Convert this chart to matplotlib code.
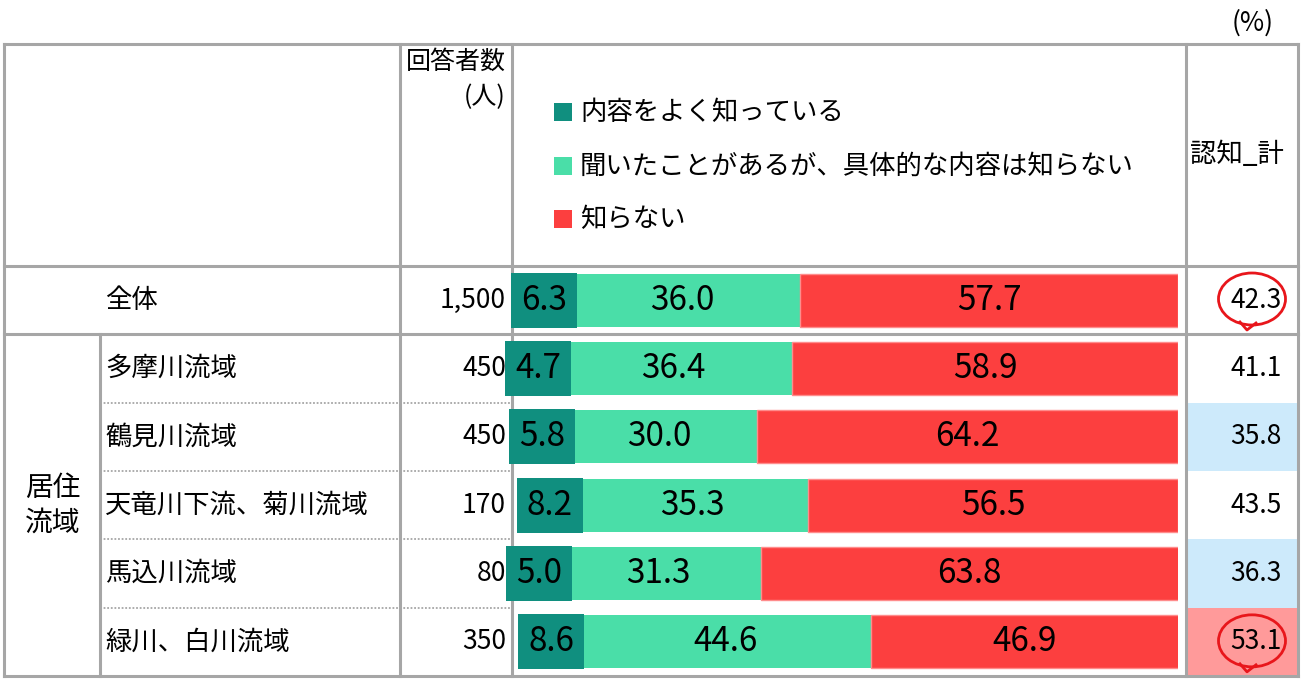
import matplotlib

matplotlib.use("Agg")
import matplotlib.pyplot as plt
from matplotlib.patches import Ellipse, Rectangle
import numpy as np

plt.rcParams["font.family"] = ["Noto Sans CJK JP", "DejaVu Sans"]

# data
categories = ["全体", "多摩川流域", "鶴見川流域", "天竜川下流、菊川流域", "馬込川流域", "緑川、白川流域"]
counts = ["1,500", "450", "450", "170", "80", "350"]
know_well = [6.3, 4.7, 5.8, 8.2, 5.0, 8.6]
heard_only = [36.0, 36.4, 30.0, 35.3, 31.3, 44.6]
not_known = [57.7, 58.9, 64.2, 56.5, 63.8, 46.9]
aware_total = [42.3, 41.1, 35.8, 43.5, 36.3, 53.1]
series_names = ["内容をよく知っている", "聞いたことがあるが、具体的な内容は知らない", "知らない"]
group_label = "居住\n流域"
circled_rows = [0, 5]

DARK = "#108f7f"
GREEN = "#4adea8"
RED = "#fc3f3f"
GRID = "#a6a6a6"
BLUE_CELL = "#cdeafb"
PINK_CELL = "#ff9a9a"

W, H = 1306, 682
fig = plt.figure(figsize=(W / 100, H / 100), dpi=100)

# table overlay in pixel coordinates
tab = fig.add_axes([0, 0, 1, 1])
tab.set_xlim(0, W)
tab.set_ylim(H, 0)
tab.axis("off")

x_left, x_grp, x_cnt, x_bar, x_tot, x_right = 4, 100, 400, 512, 1186, 1298
y_top, y_head = 44, 266
row_edges = np.linspace(266, 676, len(categories) + 1)
row_edges[1] = 334
y_bottom = row_edges[-1]
row_mid = (row_edges[:-1] + row_edges[1:]) / 2

# highlighted cells of the total column (vs. overall, +-5 points)
base = aware_total[0]
for i, v in enumerate(aware_total[1:], start=1):
    diff = v - base
    color = PINK_CELL if diff >= 5 else BLUE_CELL if diff <= -5 else None
    if color:
        tab.add_patch(Rectangle((x_tot, row_edges[i]), x_right - x_tot,
                                row_edges[i + 1] - row_edges[i],
                                facecolor=color, edgecolor="none", zorder=0))

lw = 2.2
for y in (y_top, y_head, row_edges[1], y_bottom):
    tab.plot([x_left, x_right], [y, y], color=GRID, lw=lw, solid_capstyle="projecting")
for x in (x_left, x_cnt, x_bar, x_tot, x_right):
    tab.plot([x, x], [y_top, y_bottom], color=GRID, lw=lw, solid_capstyle="projecting")
tab.plot([x_grp, x_grp], [row_edges[1], y_bottom], color=GRID, lw=lw)
for y in row_edges[2:-1]:
    tab.plot([x_grp, x_bar], [y, y], color=GRID, lw=1.3, linestyle=(0, (1, 1)))

# header texts
tab.text(1274, 23, "(%)", ha="right", va="center", fontsize=19)
tab.text(506, 62, "回答者数", ha="right", va="center", fontsize=18)
tab.text(506, 97, "(人)", ha="right", va="center", fontsize=18)
tab.text(1237, 155, "認知_計", ha="center", va="center", fontsize=19)
for (name, color), y in zip(zip(series_names, [DARK, GREEN, RED]), [112, 166, 219]):
    tab.add_patch(Rectangle((554, y - 9), 18, 18, facecolor=color, edgecolor="none"))
    tab.text(580, y, name, ha="left", va="center", fontsize=19)

# row labels
tab.text(53, row_mid[1:].mean(), group_label, ha="center", va="center",
         fontsize=20, linespacing=1.2)
for i, (cat, cnt, tot) in enumerate(zip(categories, counts, aware_total)):
    tab.text(105, row_mid[i], cat, ha="left", va="center", fontsize=19)
    tab.text(506, row_mid[i], cnt, ha="right", va="center", fontsize=19)
    tab.text(1282, row_mid[i], f"{tot:.1f}", ha="right", va="center", fontsize=19)

for i in circled_rows:
    tab.add_patch(Ellipse((1252, row_mid[i] - 1), 67, 52, facecolor="none",
                          edgecolor="#e8161b", lw=2.0, zorder=5))
    tab.plot([1240, 1247, 1256], [row_mid[i] + 22, row_mid[i] + 30, row_mid[i] + 23],
             color="#e8161b", lw=2.0, zorder=5)

# stacked bars
bx0, bx1 = 523, 1178
ax = fig.add_axes([bx0 / W, 1 - y_bottom / H, (bx1 - bx0) / W, (y_bottom - y_head) / H])
ax.set_xlim(0, 100)
ax.set_ylim(len(categories) - 0.5, -0.5)
ax.axis("off")
ax.patch.set_alpha(0)

ypos = np.arange(len(categories))
kw = np.array(know_well)
hd = np.array(heard_only)
nk = np.array(not_known)
ax.barh(ypos, kw, height=0.78, color=DARK, edgecolor="none")
ax.barh(ypos, hd, left=kw, height=0.78, color=GREEN, edgecolor="none")
ax.barh(ypos, nk, left=kw + hd, height=0.78, color=RED, edgecolor="#ff8c8c", lw=1)

for i in ypos:
    ax.text(kw[i] / 2, i, f"{kw[i]:.1f}", ha="center", va="center", fontsize=24,
            bbox=dict(boxstyle="square,pad=0.3", facecolor=DARK, edgecolor="none"))
    ax.text(kw[i] + hd[i] / 2, i, f"{hd[i]:.1f}", ha="center", va="center", fontsize=24)
    ax.text(kw[i] + hd[i] + nk[i] / 2, i, f"{nk[i]:.1f}", ha="center", va="center",
            fontsize=24)

fig.savefig("out.png", dpi=100, facecolor="white")
